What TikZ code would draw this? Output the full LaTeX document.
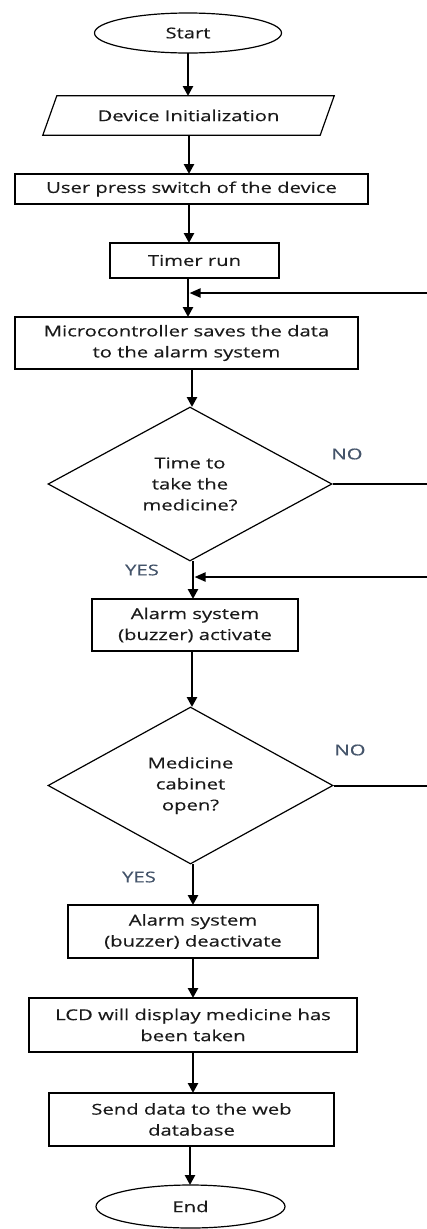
\documentclass[tikz,border=0pt]{standalone}
\usepackage{fontspec}
\setmainfont[FakeStretch=1.35,FakeBold=0.4]{Open Sans}
\usetikzlibrary{shapes.geometric,arrows.meta}
\newcommand\flowfont{\fontsize{15}{21}\selectfont}
\definecolor{lbl}{HTML}{44546A}
\definecolor{txt}{HTML}{1A1A1A}
\begin{document}
\begin{tikzpicture}[x=1pt,y=-1pt,
  every node/.style={font=\flowfont, text=txt, inner sep=0pt, align=center},
  proc/.style={draw, rectangle, line width=1.2pt},
  term/.style={draw, ellipse, line width=1.2pt},
  decision/.style={draw, diamond, aspect=1.84, line width=1.2pt},
  arr/.style={line width=2.8pt, -{Triangle[length=10pt,width=10pt]}},
  back/.style={line width=2pt, -{Triangle[length=11pt,width=9pt]}},
  lab/.style={text=lbl}]
\useasboundingbox (0,0) rectangle (427,1229);
\clip (0,0) rectangle (427,1229);

\node[term, minimum width=187, minimum height=40] (start) at (188,33) {Start};
\node[minimum width=277, minimum height=39] (init) at (188.5,115.5) {Device Initialization};
\draw[line width=1.2pt] ([xshift=7]init.north west) -- ([xshift=7]init.north east)
  -- ([xshift=-7]init.south east) -- ([xshift=-7]init.south west) -- cycle;
\node[proc, minimum width=353, minimum height=30] (user) at (191.5,189) {User press switch of the device};
\node[proc, minimum width=169, minimum height=35] (timer) at (194.5,260.5) {Timer run};
\node[proc, minimum width=343, minimum height=52] (micro) at (186.5,343) {Microcontroller saves the data\\to the alarm system};
\node[decision, minimum width=284, minimum height=154] (d1) at (190,484) {Time to\\take the\\medicine?};
\node[proc, minimum width=206, minimum height=52] (alarm) at (195,625) {Alarm system\\(buzzer) activate};
\node[decision, minimum width=285, minimum height=157] (d2) at (190.5,785.5) {Medicine\\cabinet\\open?};
\node[proc, minimum width=250, minimum height=53] (deact) at (193,931.5) {Alarm system\\(buzzer) deactivate};
\node[proc, minimum width=328, minimum height=54] (lcd) at (193,1025) {LCD will display medicine has\\been taken};
\node[proc, minimum width=285, minimum height=53] (send) at (191.5,1119.5) {Send data to the web\\database};
\node[term, minimum width=189, minimum height=43] (end) at (190.5,1206.5) {End};

\node[lab] (no1) at (347,454) {NO};
\node[lab] (yes1) at (142,570) {YES};
\node[lab] (no2) at (350,750) {NO};
\node[lab] (yes2) at (139,877) {YES};

\coordinate (j1) at (188,293);
\coordinate (j2) at (193,577);

\draw[arr] (188,53) -- (188,96);
\draw[arr] (189,135) -- (189,174);
\draw[arr] (189,204) -- (189,243);
\draw[arr] (188,278) -- (188,317);
\draw[arr] (192,369) -- (192,407);
\draw[arr] (193,561) -- (193,599);
\draw[arr] (192,651) -- (192,707);
\draw[arr] (193,864) -- (193,905);
\draw[arr] (193,958) -- (193,998);
\draw[arr] (193,1052) -- (193,1093);
\draw[arr] (190,1146) -- (190,1185);

\draw[back] (d1.east) -- (445,484) -- (445,293) -- ([xshift=1.5pt]j1);
\draw[back] (d2.east) -- (445,785.5) -- (445,577) -- ([xshift=1.5pt]j2);
\end{tikzpicture}
\end{document}
